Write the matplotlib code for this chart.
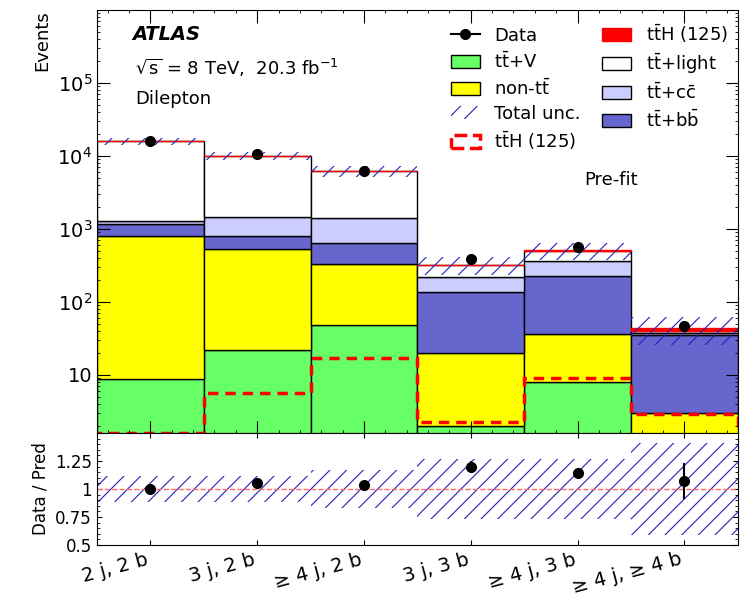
import numpy as np
import matplotlib.pyplot as plt
from matplotlib.patches import Patch
from matplotlib.lines import Line2D

plt.rcParams["hatch.linewidth"] = 0.8

categories = ["2 j, 2 b", "3 j, 2 b", "≥ 4 j, 2 b", "3 j, 3 b", "≥ 4 j, 3 b", "≥ 4 j, ≥ 4 b"]
ttV = [8.8, 22, 48, 2.0, 8, 0.5]
nontt = [790, 510, 280, 18, 28, 2.5]
ttbb = [370, 270, 310, 117, 194, 32]
ttcc = [130, 660, 760, 83, 140, 3]
ttlight = [14700, 8560, 4800, 100, 130, 2]
tth = [1.0, 2.0, 4.0, 1.0, 10, 4]
tth_alone = [1.6, 5.7, 17, 2.3, 9, 2.9]
data = [16000, 10500, 6300, 390, 570, 47]
unc = [0.12, 0.12, 0.17, 0.27, 0.27, 0.41]
ratio = [1.0, 1.05, 1.04, 1.2, 1.145, 1.07]
ratio_err = [0.01, 0.01, 0.015, 0.05, 0.04, 0.16]

x = np.arange(len(categories))
edges = np.arange(len(categories) + 1) - 0.5
unc_a = np.array(unc)

fig = plt.figure(figsize=(7.4, 5.94), dpi=100)
ax = fig.add_axes([0.131, 0.271, 0.866, 0.712])
rax = fig.add_axes([0.131, 0.0825, 0.866, 0.1885], sharex=ax)

layers = [
    (ttV, "#66ff66"),
    (nontt, "#ffff00"),
    (ttbb, "#6666cc"),
    (ttcc, "#ccccff"),
    (ttlight, "white"),
    (tth, "#ff0000"),
]
bottom = np.full(len(x), 1e-3)
for vals, col in layers:
    ax.bar(x, vals, width=1.0, bottom=bottom, color=col, edgecolor="black" if col != "#ff0000" else "#ff0000", linewidth=1.0)
    bottom = bottom + np.array(vals)
total = bottom

ax.bar(x, 2 * unc_a * total, width=1.0, bottom=total * (1 - unc_a), fill=False, hatch="//",
       edgecolor="#2222bb", linewidth=0)
ax.stairs(tth_alone, edges, color="red", linestyle=(0, (3, 2)), linewidth=2.5)
ax.plot(x, data, "o", color="black", markersize=7)

ax.set_yscale("log")
ax.set_ylim(1.6, 1e6)
ax.set_xlim(-0.5, 5.5)
ax.set_ylabel("Events", fontsize=13, loc="top")
ax.set_yticks([10, 100, 1000, 1e4, 1e5])
ax.set_yticklabels(["10", "10$^2$", "10$^3$", "10$^4$", "10$^5$"], fontsize=14)
ax.tick_params(which="both", direction="in", top=True, right=True)
ax.tick_params(which="major", length=9)
ax.tick_params(labelbottom=False)

ax.text(0.055, 0.965, "ATLAS", transform=ax.transAxes, fontsize=14, fontweight="bold",
        fontstyle="italic", va="top")
ax.text(0.06, 0.89, r"$\sqrt{\rm s}$ = 8 TeV,  20.3 fb$^{-1}$", transform=ax.transAxes, fontsize=13, va="top")
ax.text(0.06, 0.81, "Dilepton", transform=ax.transAxes, fontsize=13, va="top")
ax.text(0.76, 0.62, "Pre-fit", transform=ax.transAxes, fontsize=13, va="top")

tt = r"$\mathrm{t\bar{t}}$"
handles = [
    Line2D([], [], marker="o", color="black", markersize=7),
    Patch(facecolor="#66ff66", edgecolor="black"),
    Patch(facecolor="#ffff00", edgecolor="black"),
    Patch(fill=False, hatch="//", edgecolor="#2222bb", linewidth=0),
    Patch(fill=False, edgecolor="red", linestyle="--", linewidth=2.5),
    Patch(facecolor="#ff0000", edgecolor="#ff0000"),
    Patch(facecolor="white", edgecolor="black"),
    Patch(facecolor="#ccccff", edgecolor="black"),
    Patch(facecolor="#6666cc", edgecolor="black"),
]
labels = ["Data", tt + "+V", "non-" + tt, "Total unc.", tt + "H (125)",
          tt + "H (125)", tt + "+light", tt + r"+c$\mathrm{\bar{c}}$", tt + r"+b$\mathrm{\bar{b}}$"]
ax.legend(handles, labels, ncol=2, frameon=False, loc="upper right", fontsize=13,
          bbox_to_anchor=(1.01, 1.01), handlelength=1.6, columnspacing=1.2, labelspacing=0.35)

rax.bar(x, 2 * unc_a, width=1.0, bottom=1 - unc_a, fill=False, hatch="//",
        edgecolor="#2222bb", linewidth=0)
rax.axhline(1.0, color="#ff6666", linestyle="--", linewidth=1)
rax.errorbar(x, ratio, yerr=ratio_err, fmt="o", color="black", markersize=7, elinewidth=1.5)
rax.set_ylim(0.5, 1.5)
rax.set_yticks([0.5, 0.75, 1, 1.25])
rax.set_yticklabels(["0.5", "0.75", "1", "1.25"], fontsize=12)
rax.set_ylabel("Data / Pred", fontsize=12)
rax.set_xticks(x)
rax.set_xticklabels(categories, fontsize=14, rotation=15, ha="right")
rax.tick_params(which="both", direction="in", top=True, right=True)
rax.minorticks_on()
rax.tick_params(axis="x", which="minor", bottom=False, top=False)

fig.savefig("out.png", dpi=100)
